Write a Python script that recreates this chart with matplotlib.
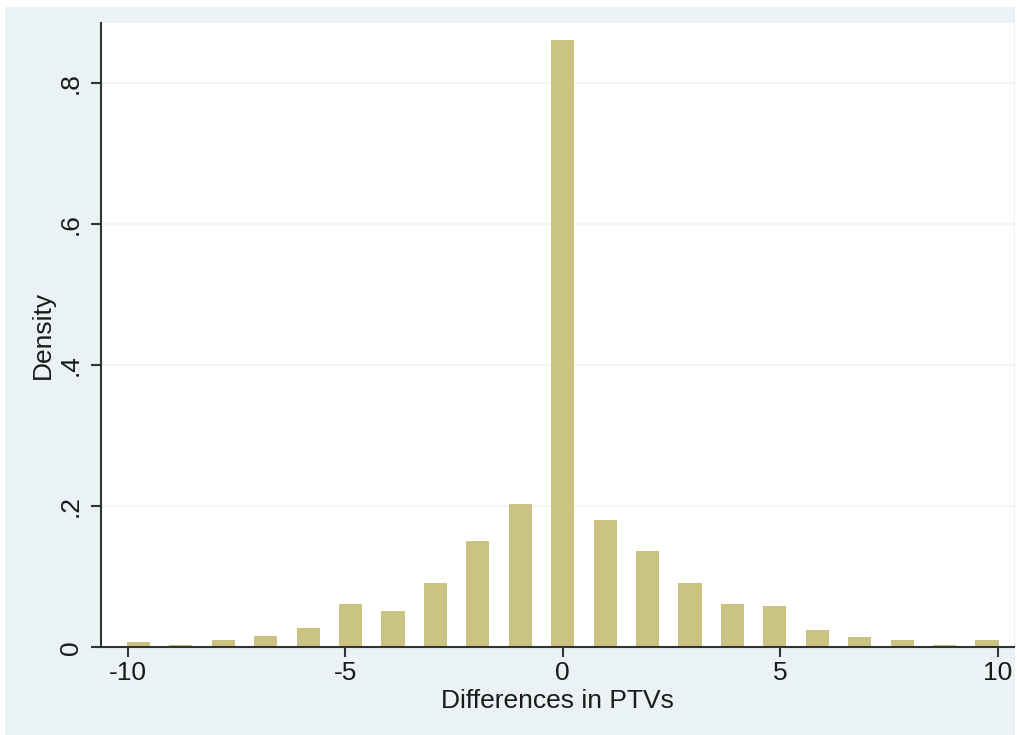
import matplotlib
matplotlib.use("Agg")
import matplotlib.pyplot as plt
from matplotlib.patches import Rectangle
import numpy as np

# Data
ptv_diff = [-10, -9, -8, -7, -6, -5, -4, -3, -2, -1, 0, 1, 2, 3, 4, 5, 6, 7, 8, 9, 10]
density = [0.008, 0.003, 0.011, 0.016, 0.028, 0.061, 0.051, 0.091, 0.151, 0.203,
           0.862, 0.181, 0.136, 0.091, 0.061, 0.058, 0.025, 0.015, 0.010, 0.003, 0.010]
xtick_vals = [-10, -5, 0, 5, 10]
xtick_labels = ["-10", "-5", "0", "5", "10"]
ytick_vals = [0, 0.2, 0.4, 0.6, 0.8]
ytick_labels = ["0", ".2", ".4", ".6", ".8"]

plt.rcParams['font.family'] = ['Liberation Sans', 'DejaVu Sans']

W, H = 1017, 735
fig = plt.figure(figsize=(W / 100, H / 100), dpi=100, facecolor='white')
fig.patches.append(Rectangle((5 / W, 0), 1010 / W, 728 / H, transform=fig.transFigure,
                             facecolor='#EAF2F3', edgecolor='none', zorder=-10))

ax = fig.add_axes([101 / W, (H - 647.3) / H, (1014 - 101) / W, (647.3 - 23.3) / H])
ax.set_zorder(1)
ax.set_facecolor('white')

# bar centres are slightly compressed relative to the axis (Stata discrete histogram)
pos = np.array(ptv_diff) * 0.975
ax.bar(pos, density, width=0.53, color='#CBC382', edgecolor='none', zorder=2)

ax.set_xlim(-10.61, 10.37)
ax.set_ylim(0, 0.885)

ax.set_xticks(xtick_vals)
ax.set_xticklabels(xtick_labels)
ax.set_yticks(ytick_vals)
ax.set_yticklabels(ytick_labels, rotation=90, va='center')

for t in ytick_vals[1:]:
    ax.axhline(t, color='#EDF4F4', lw=1.2, zorder=1)

for s in ['top', 'right']:
    ax.spines[s].set_visible(False)
for s in ['left', 'bottom']:
    ax.spines[s].set_color('#333333')
    ax.spines[s].set_linewidth(1.5)
    ax.spines[s].set_zorder(3)

ax.tick_params(axis='both', direction='out', length=7, width=1.5, color='#333333',
               labelsize=19, labelcolor='#1a1a1a')
ax.tick_params(axis='y', pad=6)
ax.tick_params(axis='x', pad=3)

ax.set_xlabel("Differences in PTVs", fontsize=19, color='#1a1a1a', labelpad=3)
ax.set_ylabel("Density", fontsize=19, color='#1a1a1a', labelpad=3)

fig.savefig("out.png", dpi=100, facecolor=fig.get_facecolor())
